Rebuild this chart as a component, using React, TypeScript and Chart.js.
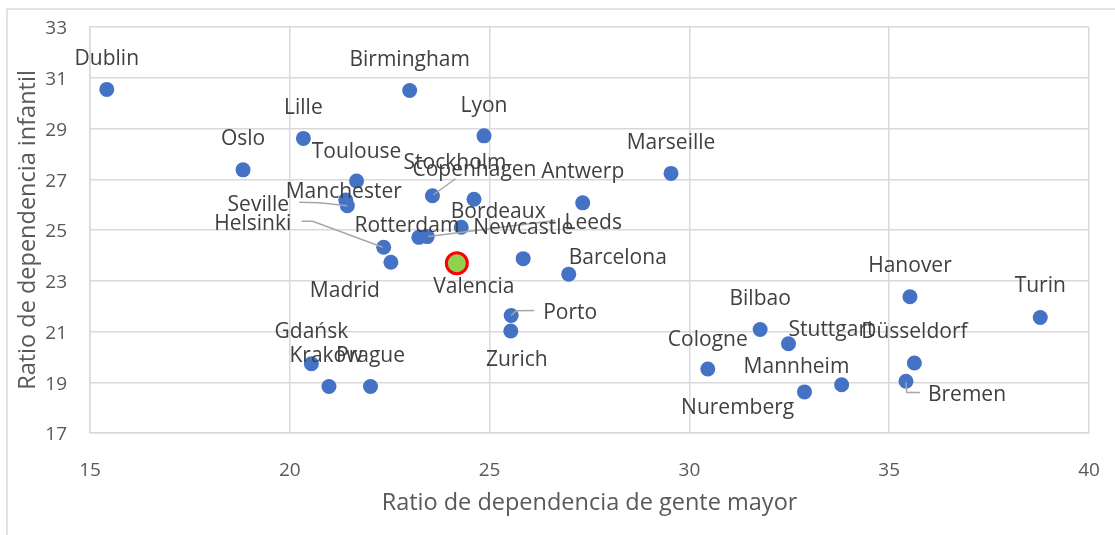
import React, { useEffect, useRef } from "react";
import { Chart, registerables } from "chart.js";

Chart.register(...registerables);

const FONT = "'Open Sans', 'Noto Sans', sans-serif";

const cities = [
  "Dublin", "Birmingham", "Lille", "Lyon", "Oslo", "Toulouse", "Marseille",
  "Copenhagen", "Stockholm", "Antwerp", "Manchester", "Seville", "Helsinki",
  "Rotterdam", "Leeds", "Newcastle", "Bordeaux", "Barcelona", "Madrid",
  "Valencia", "Hanover", "Turin", "Bilbao", "Stuttgart", "Porto", "Zurich",
  "Cologne", "Gdańsk", "Kraków", "Prague", "Mannheim", "Nuremberg",
  "Düsseldorf", "Bremen",
];

// Ratio de dependencia de gente mayor (x)
const elderlyRatio = [
  15.42, 23.0, 20.34, 24.86, 18.83, 21.67, 29.54,
  23.57, 24.61, 27.33, 21.4, 21.44, 22.35,
  23.23, 23.44, 24.29, 25.84, 26.98, 22.53,
  24.18, 35.52, 38.78, 31.77, 32.48, 25.54, 25.53,
  30.46, 20.54, 20.98, 22.02, 32.88, 33.81,
  35.63, 35.42,
];

// Ratio de dependencia infantil (y)
const childRatio = [
  30.54, 30.5, 28.61, 28.71, 27.37, 26.93, 27.23,
  26.35, 26.21, 26.07, 26.18, 25.96, 24.32,
  24.71, 24.74, 25.11, 23.87, 23.26, 23.73,
  23.69, 22.37, 21.55, 21.08, 20.52, 21.63, 21.02,
  19.52, 19.73, 18.83, 18.83, 18.62, 18.9,
  19.76, 19.04,
];

const highlightCity = "Valencia";

const xTicks = [15, 20, 25, 30, 35, 40];
const yTicks = [17, 19, 21, 23, 25, 27, 29, 31, 33];

// label placement (pixel offsets from the point)
const labelOffsets: Record<string, [number, number]> = {
  Dublin: [0, -32], Birmingham: [0, -32], Lille: [0, -32], Lyon: [0, -31],
  Oslo: [0, -32], Toulouse: [0, -31], Marseille: [0, -32],
  Copenhagen: [42, -27], Stockholm: [-19, -38], Antwerp: [0, -32],
  Manchester: [-2, -10], Seville: [-89, -2], Helsinki: [-131, -25],
  Rotterdam: [-12, -13], Leeds: [166, -15], Newcastle: [62, -1],
  Bordeaux: [-25, -48], Barcelona: [49, -18], Madrid: [-46, 27],
  Valencia: [17, 22], Hanover: [0, -32], Turin: [0, -33], Bilbao: [0, -32],
  Stuttgart: [43, -15], Porto: [59, -4], Zurich: [6, 28], Cologne: [0, -31],
  "Gdańsk": [0, -33], "Kraków": [-3, -32], Prague: [0, -32],
  Mannheim: [-8, -26], Nuremberg: [-104, 22], "Düsseldorf": [0, -32],
  Bremen: [61, 12],
};

const leaderLines: Record<string, [number, number][]> = {
  Copenhagen: [[23, -17], [1, -1]],
  Seville: [[-48, -3.5], [-28, -3], [0, 0]],
  Helsinki: [[-82, -26], [-71, -26], [-1, 0]],
  Leeds: [[128, -16], [1, 0]],
  Porto: [[23, -5], [5, -4.7], [0, 0]],
  Bremen: [[0, 1], [0.7, 11.3], [14, 11.3]],
};

const framePlugin = {
  id: "frame",
  beforeDraw(chart: any) {
    const ctx = chart.ctx;
    ctx.save();
    ctx.fillStyle = "#ffffff";
    ctx.fillRect(0, 0, chart.width, chart.height);
    ctx.strokeStyle = "#d9d9d9";
    ctx.lineWidth = 1.5;
    ctx.beginPath();
    ctx.moveTo(7, chart.height);
    ctx.lineTo(7, 9);
    ctx.lineTo(chart.width, 9);
    ctx.stroke();
    ctx.restore();
  },
};

const labelPlugin = {
  id: "cityLabels",
  afterDatasetsDraw(chart: any) {
    const ctx = chart.ctx;
    const meta = chart.getDatasetMeta(0);
    ctx.save();
    ctx.strokeStyle = "#a6a6a6";
    ctx.lineWidth = 1.5;
    cities.forEach((c, i) => {
      const pts = leaderLines[c];
      if (!pts) return;
      const el = meta.data[i];
      ctx.beginPath();
      pts.forEach(([dx, dy], k) => {
        if (k === 0) ctx.moveTo(el.x + dx, el.y + dy);
        else ctx.lineTo(el.x + dx, el.y + dy);
      });
      ctx.stroke();
    });
    ctx.font = `21px ${FONT}`;
    ctx.fillStyle = "#404040";
    ctx.textAlign = "center";
    ctx.textBaseline = "alphabetic";
    cities.forEach((c, i) => {
      const el = meta.data[i];
      const [dx, dy] = labelOffsets[c] || [0, -32];
      ctx.fillText(c, el.x + dx, el.y + dy + 7.5);
    });
    ctx.restore();
  },
};

export default function App() {
  const ref = useRef<HTMLCanvasElement | null>(null);
  useEffect(() => {
    if (!ref.current) return;
    const data = cities.map((c, i) => ({ x: elderlyRatio[i], y: childRatio[i] }));
    const chart = new Chart(ref.current, {
      type: "scatter",
      data: {
        datasets: [
          {
            label: "Ciudades",
            data,
            pointRadius: (ctx: any) => (cities[ctx.dataIndex] === highlightCity ? 10.5 : 7.5),
            pointBackgroundColor: (ctx: any) =>
              cities[ctx.dataIndex] === highlightCity ? "#92D050" : "#4472C4",
            pointBorderColor: (ctx: any) =>
              cities[ctx.dataIndex] === highlightCity ? "#FF0000" : "#4472C4",
            pointBorderWidth: (ctx: any) => (cities[ctx.dataIndex] === highlightCity ? 3 : 0),
          } as any,
        ],
      },
      options: {
        animation: false,
        responsive: false,
        maintainAspectRatio: false,
        layout: { padding: { top: 27, right: 26, left: 0, bottom: 0 } },
        plugins: { legend: { display: false }, tooltip: { enabled: false } },
        scales: {
          x: {
            type: "linear",
            min: 15,
            max: 40,
            afterBuildTicks: (s: any) => {
              s.ticks = xTicks.map((v) => ({ value: v }));
            },
            afterFit: (s: any) => {
              s.height = 102;
            },
            ticks: { color: "#595959", font: { family: FONT, size: 19 }, padding: 4 },
            grid: {
              color: "#d9d9d9",
              lineWidth: 1.5,
              drawTicks: true,
              tickLength: 22,
              tickColor: "rgba(0,0,0,0)",
            },
            border: { color: "#d9d9d9", width: 1.5 },
            title: {
              display: true,
              text: "Ratio de dependencia de gente mayor",
              color: "#595959",
              font: { family: FONT, size: 23.5 },
              padding: { top: 0, bottom: 18 },
            },
          },
          y: {
            type: "linear",
            min: 17,
            max: 33,
            afterBuildTicks: (s: any) => {
              s.ticks = yTicks.map((v) => ({ value: v }));
            },
            afterFit: (s: any) => {
              s.width = 90;
            },
            ticks: { color: "#595959", font: { family: FONT, size: 19 }, padding: 4, labelOffset: 2 },
            grid: {
              color: "#d9d9d9",
              lineWidth: 1.5,
              drawTicks: true,
              tickLength: 19,
              tickColor: "rgba(0,0,0,0)",
            },
            border: { color: "#d9d9d9", width: 1.5 },
            title: {
              display: true,
              text: "Ratio de dependencia infantil",
              color: "#595959",
              font: { family: FONT, size: 23.5 },
              padding: { top: 14, bottom: 0 },
            },
          },
        },
      } as any,
      plugins: [framePlugin, labelPlugin],
    });
    return () => chart.destroy();
  }, []);
  return (
    <div style={{ position: "fixed", left: 0, top: 0, width: 1115, height: 535, background: "#fff" }}>
      <canvas ref={ref} width={1115} height={535} style={{ display: "block", width: 1115, height: 535 }} />
    </div>
  );
}
